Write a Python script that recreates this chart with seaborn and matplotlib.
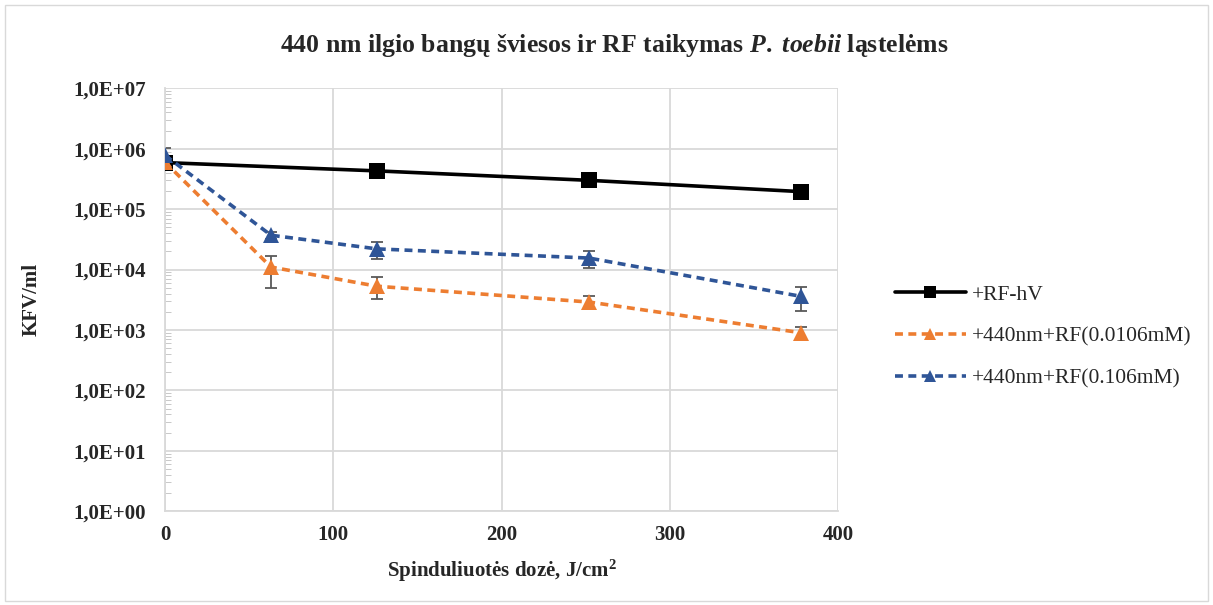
import numpy as np
import pandas as pd
import matplotlib
matplotlib.use("Agg")
import matplotlib.pyplot as plt
import seaborn as sns
from matplotlib.ticker import LogLocator, FixedLocator, FuncFormatter

# data
dose_rf = [0, 126, 252, 378]
kfv_rf = [5.9e5, 4.3e5, 3.0e5, 1.95e5]
err_rf = [6e4, 2e4, 1.5e4, 1e4]

dose_440 = [0, 63, 126, 252, 378]
kfv_low = [6.0e5, 1.1e4, 5.3e3, 2.9e3, 9.0e2]
err_low = [5e4, 6e3, 2.1e3, 7e2, 2.2e2]
kfv_high = [7.8e5, 3.7e4, 2.2e4, 1.55e4, 3.6e3]
err_high = [2.5e5, 5e3, 7e3, 5e3, 1.5e3]

labels = ["+RF-hV", "+440nm+RF(0.0106mM)", "+440nm+RF(0.106mM)"]
colors = ["#000000", "#ED7D31", "#2F5597"]

sns.set_style("white")
plt.rcParams['font.family'] = ['Liberation Serif', 'DejaVu Serif']
plt.rcParams['mathtext.fontset'] = 'custom'
plt.rcParams['mathtext.rm'] = 'Liberation Serif:bold'
plt.rcParams['mathtext.it'] = 'Liberation Serif:bold:italic'

df = pd.concat([
    pd.DataFrame({'dose': dose_rf, 'kfv': kfv_rf, 'err': err_rf, 'series': labels[0]}),
    pd.DataFrame({'dose': dose_440, 'kfv': kfv_low, 'err': err_low, 'series': labels[1]}),
    pd.DataFrame({'dose': dose_440, 'kfv': kfv_high, 'err': err_high, 'series': labels[2]}),
])

fig = plt.figure(figsize=(12.13, 6.05), dpi=100)
ax = fig.add_axes([0.136, 0.155, 0.555, 0.699])

# frame round the whole chart area
fig.patches.append(plt.Rectangle((0.004, 0.006), 0.992, 0.985, transform=fig.transFigure,
                                 fill=False, edgecolor='#d9d9d9', lw=1))

for lab, col in zip(labels, colors):
    d = df[df['series'] == lab]
    ax.errorbar(d['dose'], d['kfv'], yerr=d['err'], fmt='none', ecolor='#595959',
                elinewidth=1.3, capsize=4, capthick=1.3, zorder=2)

sns.lineplot(data=df, x='dose', y='kfv', hue='series', style='series',
             palette=dict(zip(labels, colors)),
             markers={labels[0]: 's', labels[1]: '^', labels[2]: '^'},
             dashes={labels[0]: '', labels[1]: (2.2, 1.5), labels[2]: (2.2, 1.5)},
             markersize=11.5, markeredgewidth=0, lw=2.6, ax=ax, zorder=3, legend=True)

ax.set_yscale('log')
ax.set_ylim(1, 1e7)
ax.set_xlim(0, 400)
ax.set_xticks([0, 100, 200, 300, 400])
ax.yaxis.set_major_locator(FixedLocator([10.0 ** k for k in range(8)]))
ax.yaxis.set_minor_locator(LogLocator(base=10, subs=np.arange(2, 10), numticks=20))
ax.yaxis.set_major_formatter(FuncFormatter(lambda v, p: "1,0E+%02d" % int(round(np.log10(v)))))
ax.yaxis.set_minor_formatter(FuncFormatter(lambda v, p: ""))

ax.grid(True, which='major', color='#d9d9d9', lw=1.3)
for s in ['top', 'right']:
    ax.spines[s].set_visible(False)
ax.spines['left'].set_color('#d9d9d9')
ax.spines['bottom'].set_color('#d9d9d9')
ax.spines['left'].set_linewidth(1.3)
ax.spines['bottom'].set_linewidth(1.3)
ax.tick_params(axis='y', which='major', direction='in', length=5, color='#bfbfbf', labelsize=15, pad=14)
ax.tick_params(axis='y', which='minor', direction='in', length=4, color='#bfbfbf', left=True)
ax.tick_params(axis='x', length=0, labelsize=15, pad=10)
for t in ax.get_xticklabels() + ax.get_yticklabels():
    t.set_fontweight('bold')

ax.set_xlabel(r"Spinduliuotės dozė, J/cm$^{2}$", fontsize=15, fontweight='bold', labelpad=9)
ax.set_ylabel("KFV/ml", fontsize=15, fontweight='bold')
ax.yaxis.set_label_coords(-0.183, 0.5)

fig.text(0.506, 0.924, r"440 nm ilgio bangų šviesos ir RF taikymas $\mathit{P.}$ $\mathit{toebii}$ ląstelėms",
         ha='center', va='center', fontsize=18.5, fontweight='bold')

h, l = ax.get_legend_handles_labels()
leg = ax.legend(h, l, loc='center left', bbox_to_anchor=(1.055, 0.413), frameon=False,
                fontsize=15.5, handlelength=3.3, handletextpad=0.3, labelspacing=1.0,
                markerscale=0.75)

fig.savefig('out.png', dpi=100)
